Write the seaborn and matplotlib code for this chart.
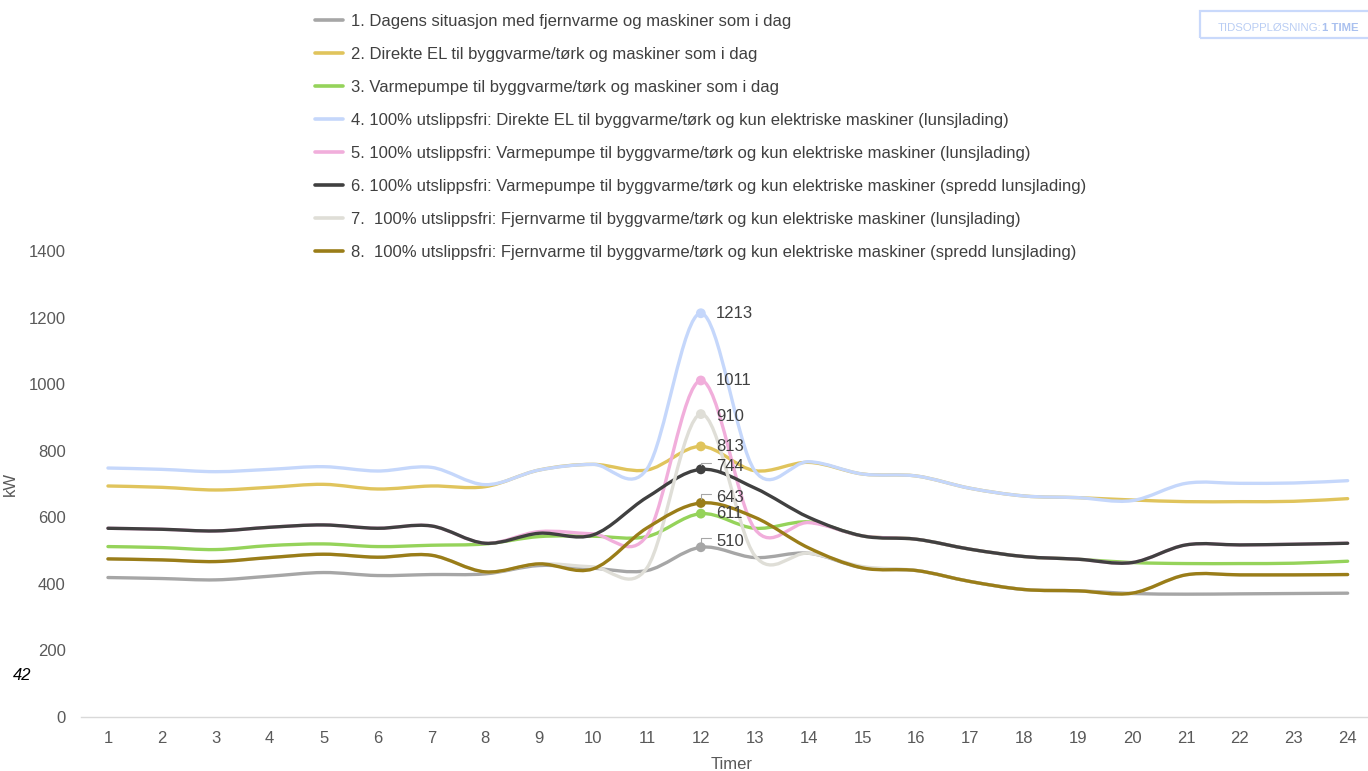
import numpy as np
import pandas as pd
import matplotlib.pyplot as plt
import seaborn as sns
from matplotlib.path import Path
from matplotlib.patches import PathPatch, Rectangle
from matplotlib.lines import Line2D

sns.set_theme(style='white')
plt.rcParams['font.family'] = ['Liberation Sans', 'DejaVu Sans']

# Effektbehov per time (kW), lest av figuren
hours = list(range(1, 25))
s1_today = [419, 416, 412, 423, 434, 425, 428, 430, 455, 447, 440, 510, 479, 492, 448, 440, 407, 383, 379, 371, 369, 370, 371, 372]
s2_direct_el = [694, 690, 682, 690, 699, 685, 694, 692, 742, 759, 742, 813, 740, 765, 730, 724, 687, 664, 659, 652, 647, 647, 648, 656]
s3_heatpump = [512, 509, 503, 515, 520, 512, 516, 520, 542, 543, 542, 611, 567, 586, 544, 534, 504, 482, 474, 464, 461, 461, 462, 468]
s4_el_lunch = [748, 744, 737, 744, 752, 739, 750, 698, 742, 759, 745, 1213, 740, 767, 730, 724, 687, 664, 659, 650, 702, 702, 703, 710]
s5_hp_lunch = [567, 564, 559, 570, 577, 567, 574, 522, 557, 550, 545, 1011, 565, 584, 544, 534, 504, 482, 474, 464, 517, 517, 519, 522]
s6_hp_spread = [567, 564, 559, 570, 577, 567, 574, 522, 552, 547, 660, 744, 688, 600, 544, 534, 504, 482, 474, 464, 517, 517, 519, 522]
s7_fv_lunch = [475, 472, 467, 479, 489, 480, 486, 436, 460, 451, 448, 910, 485, 492, 452, 440, 407, 383, 379, 372, 427, 427, 427, 428]
s8_fv_spread = [475, 472, 467, 479, 489, 480, 486, 436, 460, 445, 568, 643, 600, 508, 448, 440, 407, 383, 379, 372, 427, 427, 427, 428]

names = [
    '1. Dagens situasjon med fjernvarme og maskiner som i dag',
    '2. Direkte EL til byggvarme/tørk og maskiner som i dag',
    '3. Varmepumpe til byggvarme/tørk og maskiner som i dag',
    '4. 100% utslippsfri: Direkte EL til byggvarme/tørk og kun elektriske maskiner (lunsjlading)',
    '5. 100% utslippsfri: Varmepumpe til byggvarme/tørk og kun elektriske maskiner (lunsjlading)',
    '6. 100% utslippsfri: Varmepumpe til byggvarme/tørk og kun elektriske maskiner (spredd lunsjlading)',
    '7.  100% utslippsfri: Fjernvarme til byggvarme/tørk og kun elektriske maskiner (lunsjlading)',
    '8.  100% utslippsfri: Fjernvarme til byggvarme/tørk og kun elektriske maskiner (spredd lunsjlading)',
]
series = [s1_today, s2_direct_el, s3_heatpump, s4_el_lunch, s5_hp_lunch, s6_hp_spread, s7_fv_lunch, s8_fv_spread]
colors = ['#a6a6a6', '#e0c45c', '#95d35a', '#c5d7fb', '#f1aedb', '#404040', '#dfded7', '#9a7d18']
# label offsets (points) for the peak values
label_dy = [4, 0, 0, 0, 0, 2, -2, 4]


def smooth_path(x, y):
    # Excel-style smoothed line: cubic Bezier through every data point
    x = np.asarray(x, float)
    y = np.asarray(y, float)
    n = len(x)
    verts = [(x[0], y[0])]
    codes = [Path.MOVETO]
    for i in range(n - 1):
        a = max(i - 1, 0)
        d = min(i + 2, n - 1)
        c1 = (x[i] + (x[i + 1] - x[a]) / 6, y[i] + (y[i + 1] - y[a]) / 6)
        c2 = (x[i + 1] - (x[d] - x[i]) / 6, y[i + 1] - (y[d] - y[i]) / 6)
        verts += [c1, c2, (x[i + 1], y[i + 1])]
        codes += [Path.CURVE4] * 3
    return Path(verts, codes)


fig = plt.figure(figsize=(13.68, 7.71), dpi=100)
ax = fig.add_axes([81 / 1368, 1 - 717 / 771, 1293.6 / 1368, 466 / 771])

for k, (vals, col) in enumerate(zip(series, colors)):
    ax.add_patch(PathPatch(smooth_path(hours, vals), facecolor='none', edgecolor=col,
                           lw=2.4, capstyle='round', joinstyle='round', zorder=2 + k))

peak = pd.DataFrame({'hour': [12] * len(series),
                     'kW': [s[11] for s in series],
                     'serie': names})
sns.scatterplot(data=peak, x='hour', y='kW', hue='serie', palette=colors, s=50,
                linewidth=0, legend=False, zorder=20, ax=ax)

for k, vals in enumerate(series):
    v = vals[11]
    if k in (0, 5, 7):
        ax.annotate(str(v), xy=(12, v), xytext=(11, label_dy[k]), textcoords='offset points',
                    ha='left', va='center', fontsize=12, color='#404040', zorder=25,
                    arrowprops=dict(arrowstyle='-', color='#a6a6a6', lw=0.8, relpos=(0, 0.75),
                                    connectionstyle='angle,angleA=0,angleB=90,rad=0',
                                    shrinkA=1, shrinkB=3))
    else:
        ax.annotate(str(v), xy=(12, v), xytext=(11, label_dy[k]), textcoords='offset points',
                    ha='left', va='center', fontsize=12, color='#404040', zorder=25)

ax.set_xlim(0.5, 24.5)
ax.set_ylim(0, 1400)
ax.set_xticks(hours)
ax.set_yticks(range(0, 1401, 200))
ax.tick_params(axis='both', length=0, colors='#595959', labelsize=12)
ax.tick_params(axis='x', pad=10)
ax.tick_params(axis='y', pad=11)
for side in ['top', 'right', 'left']:
    ax.spines[side].set_visible(False)
ax.spines['bottom'].set_color('#d9d9d9')
ax.spines['bottom'].set_linewidth(1)
ax.grid(False)

ax.set_xlabel('Timer', fontsize=12, color='#595959')
ax.xaxis.set_label_coords(0.503, -0.086)
ax.set_ylabel('kW', fontsize=12, color='#595959')
ax.yaxis.set_label_coords(-0.0487, 0.5)

handles = [Line2D([], [], color=c, lw=2.6) for c in colors]
fig.legend(handles, names, loc='upper left', bbox_to_anchor=(315 / 1368, 1 - 14 / 771),
           frameon=False, fontsize=12, handlelength=1.7, handletextpad=0.45,
           labelspacing=1.08, borderpad=0, borderaxespad=0, labelcolor='#404040')

fig.text(22.5 / 1368, 1 - 676 / 771, '42', style='italic', fontsize=12, color='black',
         ha='center', va='center')

fig.add_artist(Rectangle((1200 / 1368, 1 - 38 / 771), 0.2, 27 / 771, transform=fig.transFigure,
                         fill=False, edgecolor='#c9d9fb', lw=1.6))
fig.text(1218 / 1368, 1 - 28 / 771, 'TIDSOPPLØSNING:', fontsize=8.2, color='#b9cdf4',
         ha='left', va='center')
fig.text(1322 / 1368, 1 - 28 / 771, '1 TIME', fontsize=8.2, color='#a9c0ef', fontweight='bold',
         ha='left', va='center')

fig.savefig('out.png', dpi=100)
